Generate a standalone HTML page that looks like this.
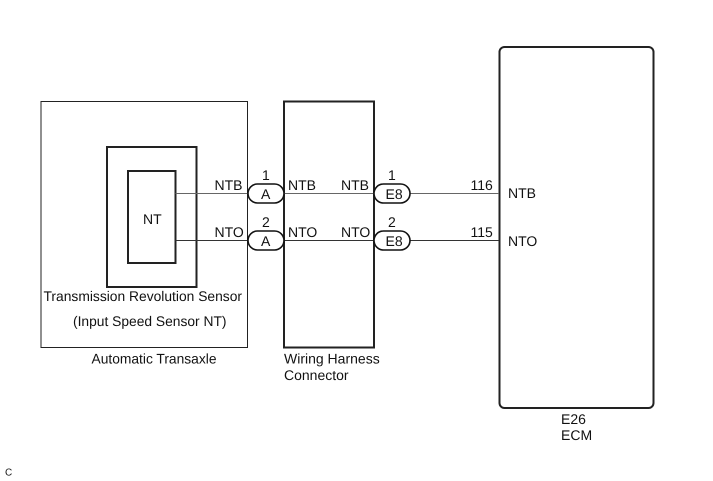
<!DOCTYPE html>
<html><head><meta charset="utf-8"><style>
html,body{margin:0;padding:0;background:#fff}
svg{display:block}
text{font-family:"Liberation Sans",Arial,sans-serif;font-size:14px;fill:#111;text-rendering:geometricPrecision}
</style></head><body>
<svg width="713" height="481" viewBox="0 0 713 481" xmlns="http://www.w3.org/2000/svg">
<g fill="none" stroke="#222">
<rect x="41" y="101.5" width="206.5" height="246" stroke-width="1"/>
<rect x="107" y="147" width="89.5" height="140" stroke-width="2"/>
<rect x="128" y="171" width="47.5" height="92" stroke-width="2"/>
<rect x="284" y="101.5" width="90" height="246" stroke-width="2"/>
<rect x="499.5" y="47" width="154" height="361" rx="5" ry="5" stroke-width="2"/>
<path d="M175.5 193.5H248M284 193.5H374M410 193.5H499" stroke="#666" stroke-width="1"/>
<path d="M175.5 240.5H248M284 240.5H374M410 240.5H499" stroke="#333" stroke-width="1"/>
<g fill="#fff" stroke="#111" stroke-width="1.6">
<rect x="248" y="184" width="36" height="19" rx="9.5"/>
<rect x="248" y="231" width="36" height="19" rx="9.5"/>
<rect x="374" y="184" width="36" height="19" rx="9.5"/>
<rect x="374" y="231" width="36" height="19" rx="9.5"/>
</g>
</g>
<text x="143" y="224">NT</text>
<text x="214.5" y="190">NTB</text>
<text x="214.5" y="237">NTO</text>
<text x="262" y="180">1</text>
<text x="262" y="227">2</text>
<text x="261" y="199">A</text>
<text x="261" y="246">A</text>
<text x="288" y="190">NTB</text>
<text x="288" y="237">NTO</text>
<text x="341" y="190">NTB</text>
<text x="341" y="237">NTO</text>
<text x="388" y="180">1</text>
<text x="388" y="227">2</text>
<text x="385.5" y="199">E8</text>
<text x="385.5" y="246">E8</text>
<text x="470.5" y="190">116</text>
<text x="470.5" y="237">115</text>
<text x="508" y="198">NTB</text>
<text x="508" y="246">NTO</text>
<text x="43.5" y="301" textLength="198.5" lengthAdjust="spacingAndGlyphs">Transmission Revolution Sensor</text>
<text x="73" y="326" textLength="153.5" lengthAdjust="spacingAndGlyphs">(Input Speed Sensor NT)</text>
<text x="91.5" y="363.5" textLength="125" lengthAdjust="spacingAndGlyphs">Automatic Transaxle</text>
<text x="284" y="363.5">Wiring Harness</text>
<text x="284" y="380">Connector</text>
<text x="561" y="424">E26</text>
<text x="561" y="440">ECM</text>
<text x="5" y="475.5" style="font-size:10px">C</text>
</svg>
</body></html>
